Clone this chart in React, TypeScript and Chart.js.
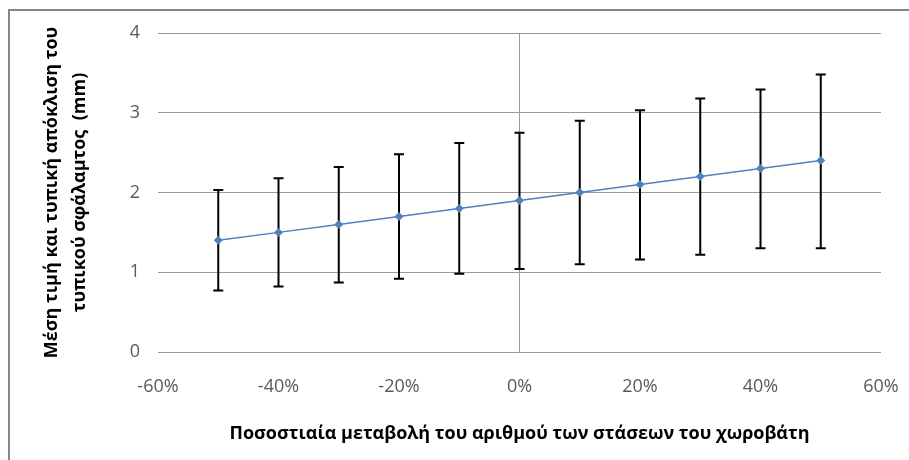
import React, { useEffect, useRef } from "react";
import { Chart, registerables } from "chart.js";

Chart.register(...registerables);

const changePct = [-50, -40, -30, -20, -10, 0, 10, 20, 30, 40, 50];
const meanError = [1.4, 1.5, 1.6, 1.7, 1.8, 1.9, 2.0, 2.1, 2.2, 2.3, 2.4];
const upperBar = [2.03, 2.18, 2.32, 2.48, 2.62, 2.75, 2.9, 3.03, 3.18, 3.29, 3.48];
const lowerBar = [0.77, 0.82, 0.87, 0.92, 0.98, 1.04, 1.1, 1.16, 1.22, 1.3, 1.3];
const xTitle = "Ποσοστιαία μεταβολή του αριθμού των στάσεων του χωροβάτη";
const yTitle = ["Μέση τιμή και τυπική απόκλιση του", "τυπικού σφάλαμτος  (mm)"];

const FONT = "'Open Sans', 'Noto Sans', sans-serif";

const errorBars = {
  id: "errorBars",
  beforeDatasetsDraw(chart: any) {
    const { ctx, scales } = chart;
    const xs = scales.x;
    const ys = scales.y;
    ctx.save();
    ctx.strokeStyle = "#000000";
    ctx.lineWidth = 2;
    changePct.forEach((v, i) => {
      const px = xs.getPixelForValue(v);
      const top = ys.getPixelForValue(upperBar[i]);
      const bot = ys.getPixelForValue(lowerBar[i]);
      ctx.beginPath();
      ctx.moveTo(px, top);
      ctx.lineTo(px, bot);
      ctx.moveTo(px - 5, top);
      ctx.lineTo(px + 5, top);
      ctx.moveTo(px - 5, bot);
      ctx.lineTo(px + 5, bot);
      ctx.stroke();
    });
    ctx.restore();
  },
};

const frame = {
  id: "frame",
  beforeDraw(chart: any) {
    const { ctx, width, height } = chart;
    ctx.save();
    ctx.fillStyle = "#ffffff";
    ctx.fillRect(0, 0, width, height);
    ctx.strokeStyle = "#878787";
    ctx.lineWidth = 2;
    ctx.beginPath();
    ctx.moveTo(9, height + 2);
    ctx.lineTo(9, 10);
    ctx.lineTo(width + 2, 10);
    ctx.stroke();
    ctx.restore();
  },
};

export default function App() {
  const ref = useRef<HTMLCanvasElement>(null);

  useEffect(() => {
    if (!ref.current) return;
    const chart = new Chart(ref.current, {
      type: "line",
      data: {
        datasets: [
          {
            data: changePct.map((x, i) => ({ x, y: meanError[i] })),
            borderColor: "#4F81BD",
            backgroundColor: "#4F81BD",
            borderWidth: 1.5,
            pointStyle: "rectRot",
            pointRadius: 4.5,
            pointBorderWidth: 0,
            pointBackgroundColor: "#4F81BD",
            tension: 0,
          },
        ],
      },
      options: {
        responsive: false,
        animation: false,
        layout: { padding: { top: 33, right: 0, left: 0, bottom: 0 } },
        plugins: {
          legend: { display: false },
          tooltip: { enabled: false },
        },
        scales: {
          x: {
            type: "linear",
            min: -60,
            max: 60,
            ticks: {
              stepSize: 20,
              color: "#595959",
              padding: 24,
              font: { family: FONT, size: 18 },
              callback: (v: any) => v + "%",
            },
            grid: {
              drawTicks: false,
              color: (c: any) => (c.tick && c.tick.value === 0 ? "#9a9a9a" : "rgba(0,0,0,0)"),
              lineWidth: 1,
            },
            border: { display: false },
            title: {
              display: true,
              text: xTitle,
              color: "#000000",
              font: { family: FONT, size: 18, weight: "bold" },
              padding: { top: 0, bottom: 15 },
            },
            afterFit: (s: any) => {
              s.height = 108;
              s.paddingLeft = 0;
              s.paddingRight = 28;
            },
          },
          y: {
            min: 0,
            max: 4,
            ticks: {
              stepSize: 1,
              color: "#595959",
              padding: 18,
              font: { family: FONT, size: 18 },
            },
            grid: { drawTicks: false, color: "#9a9a9a", lineWidth: 1 },
            border: { display: false },
            title: {
              display: true,
              text: yTitle,
              color: "#000000",
              font: { family: FONT, size: 18, weight: "bold", lineHeight: 1.55 },
              padding: { top: 38, bottom: 0 },
            },
            afterFit: (s: any) => {
              s.width = 158;
            },
          },
        },
      },
      plugins: [frame, errorBars],
    });
    return () => chart.destroy();
  }, []);

  return (
    <div style={{ position: "fixed", left: 0, top: 0, width: 909, height: 460 }}>
      <canvas ref={ref} width={909} height={460} />
    </div>
  );
}
